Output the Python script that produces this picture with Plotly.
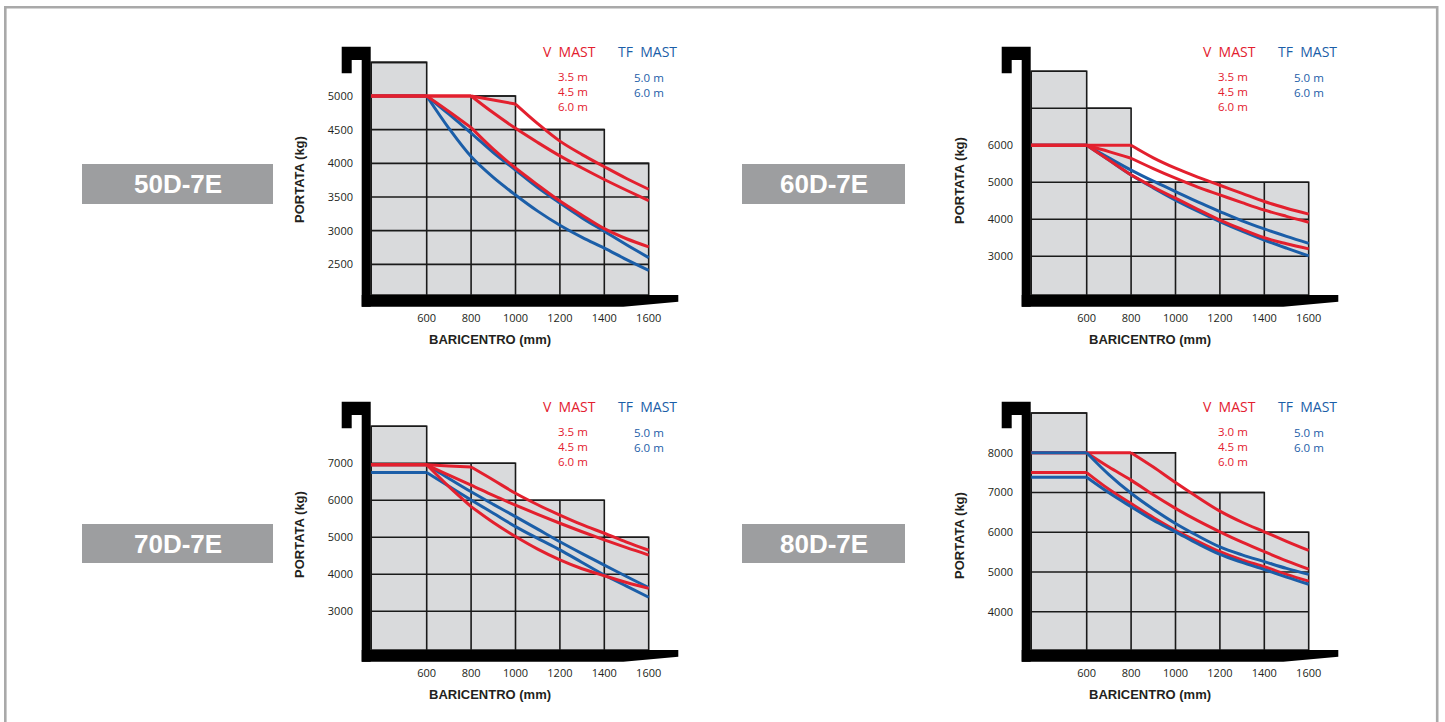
import plotly.graph_objects as go

W, H = 1445, 722

# ---------------- data ----------------
X_MM = [600, 700, 800, 900, 1000, 1100, 1200, 1300, 1400, 1500, 1600]
X_TICKS = [600, 800, 1000, 1200, 1400, 1600]
X_LEFT = 350

MODELS = ["50D-7E", "60D-7E", "70D-7E", "80D-7E"]
V_HEIGHTS = [["3.5 m", "4.5 m", "6.0 m"], ["3.5 m", "4.5 m", "6.0 m"],
             ["3.5 m", "4.5 m", "6.0 m"], ["3.0 m", "4.5 m", "6.0 m"]]
TF_HEIGHTS = ["5.0 m", "6.0 m"]

# 50D-7E
Y_TICKS_50 = [2500, 3000, 3500, 4000, 4500, 5000]
EDGES_50 = [350, 600, 1000, 1400, 1600]
TOPS_50 = [5500, 5000, 4500, 4000]
V1_50 = [5000, 5000, 5000, 4940, 4880, 4590, 4330, 4130, 3950, 3775, 3615]
V2_50 = [5000, 5000, 5000, 4750, 4520, 4310, 4110, 3930, 3760, 3600, 3445]
V3_50 = [5000, 4770, 4530, 4210, 3930, 3680, 3440, 3230, 3030, 2880, 2760]
T1_50 = [5000, 4730, 4450, 4160, 3900, 3640, 3410, 3190, 2990, 2790, 2600]
T2_50 = [5000, 4520, 4100, 3790, 3530, 3290, 3080, 2900, 2740, 2570, 2410]

# 60D-7E
Y_TICKS_60 = [3000, 4000, 5000, 6000]
EDGES_60 = [350, 600, 800, 1600]
TOPS_60 = [8000, 7000, 5000]
V1_60 = [6000, 6000, 6000, 5660, 5380, 5140, 4920, 4700, 4480, 4300, 4140]
V2_60 = [6000, 5830, 5650, 5370, 5110, 4870, 4660, 4450, 4250, 4080, 3920]
V3_60 = [6000, 5600, 5200, 4870, 4570, 4270, 3980, 3730, 3500, 3340, 3200]
T1_60 = [6000, 5660, 5330, 5030, 4750, 4470, 4210, 3960, 3740, 3540, 3350]
T2_60 = [6000, 5600, 5200, 4850, 4520, 4220, 3940, 3680, 3440, 3220, 3010]

# 70D-7E
Y_TICKS_70 = [3000, 4000, 5000, 6000, 7000]
EDGES_70 = [350, 600, 1000, 1400, 1600]
TOPS_70 = [8000, 7000, 6000, 5000]
V1_70 = [6960, 6930, 6900, 6550, 6190, 5880, 5600, 5340, 5110, 4870, 4650]
V2_70 = [6960, 6680, 6410, 6130, 5870, 5620, 5380, 5150, 4930, 4720, 4520]
V3_70 = [6960, 6370, 5830, 5400, 5020, 4680, 4390, 4150, 3960, 3780, 3620]
T1_70 = [6960, 6590, 6230, 5890, 5560, 5220, 4880, 4560, 4250, 3940, 3640]
T2_70 = [6750, 6380, 6010, 5650, 5290, 4970, 4660, 4320, 3980, 3680, 3380]

# 80D-7E
Y_TICKS_80 = [4000, 5000, 6000, 7000, 8000]
EDGES_80 = [350, 600, 1000, 1400, 1600]
TOPS_80 = [9000, 8000, 7000, 6000]
V1_80 = [8000, 8000, 8000, 7640, 7250, 6880, 6530, 6250, 6010, 5770, 5540]
V2_80 = [8000, 7640, 7310, 6940, 6600, 6290, 6010, 5750, 5510, 5280, 5070]
V3_80 = [7500, 7080, 6720, 6370, 6050, 5770, 5510, 5300, 5130, 4940, 4770]
T1_80 = [8000, 7450, 6980, 6580, 6220, 5910, 5630, 5430, 5260, 5090, 4940]
T2_80 = [7380, 6990, 6640, 6300, 6010, 5710, 5440, 5240, 5060, 4870, 4690]

# ---------------- style / geometry ----------------
RED = "#e3202e"
BLUE = "#1b5ea8"
FILL = "#d9dadc"
GRID = "#1a1a1a"
LABEL_BOX = "#9d9ea0"
TEXT = "#231f20"
TICK_FONT = dict(family="Open Sans, Noto Sans, sans-serif", size=11, color=TEXT)
BOLD_FONT = "Liberation Sans, Arial, sans-serif"

KX = 0.222          # px per mm
X600_PX = 426.7     # px of x=600 in first column of panels

panels = [
    dict(model=MODELS[0], vh=V_HEIGHTS[0], yt=Y_TICKS_50, edges=EDGES_50, tops=TOPS_50,
         series=[(T1_50, BLUE, [600]), (T2_50, BLUE, [600]),
                 (V1_50, RED, [600, 800, 1000]), (V2_50, RED, [600, 800]), (V3_50, RED, [600, 800])],
         dx=0, dy=0, yv=5000, ypx=96.0, ky=0.06733, box=(82, 164, 273, 204)),
    dict(model=MODELS[1], vh=V_HEIGHTS[1], yt=Y_TICKS_60, edges=EDGES_60, tops=TOPS_60,
         series=[(T1_60, BLUE, [600]), (T2_60, BLUE, [600]),
                 (V1_60, RED, [600, 800]), (V2_60, RED, [600, 800]), (V3_60, RED, [600, 800])],
         dx=660, dy=0, yv=6000, ypx=145.3, ky=0.037, box=(742, 164, 905, 204)),
    dict(model=MODELS[2], vh=V_HEIGHTS[2], yt=Y_TICKS_70, edges=EDGES_70, tops=TOPS_70,
         series=[(T1_70, BLUE, [600]), (T2_70, BLUE, [600]),
                 (V1_70, RED, [600, 800]), (V2_70, RED, [600]), (V3_70, RED, [600, 800])],
         dx=0, dy=355, yv=7000, ypx=463.3, ky=0.037, box=(82, 524, 273, 563)),
    dict(model=MODELS[3], vh=V_HEIGHTS[3], yt=Y_TICKS_80, edges=EDGES_80, tops=TOPS_80,
         series=[(V1_80, RED, [600, 800]), (V2_80, RED, [600]), (V3_80, RED, [600]),
                 (T1_80, BLUE, [600]), (T2_80, BLUE, [600])],
         dx=660, dy=355, yv=8000, ypx=452.7, ky=0.03975, box=(742, 524, 905, 563)),
]


def pxx(v):
    return v / W


def pxy(v):
    return 1 - v / H


def build_xy(ys, kinks):
    pts = [(X_LEFT, ys[0])] + list(zip(X_MM, ys))
    xs_out, ys_out = [], []
    seg = []
    for (x, y) in pts:
        seg.append((x, y))
        if x in kinks:
            if len(seg) > 1:
                xs_out += [p[0] for p in seg] + [None]
                ys_out += [p[1] for p in seg] + [None]
            seg = [(x, y)]
    if len(seg) > 1:
        xs_out += [p[0] for p in seg]
        ys_out += [p[1] for p in seg]
    return xs_out, ys_out


fig = go.Figure()
shapes = []
annotations = []
layout_axes = {}

for i, p in enumerate(panels):
    n = "" if i == 0 else str(i + 1)
    xa, ya = "x" + n, "y" + n
    dx, dy = p["dx"], p["dy"]
    x6 = X600_PX + dx
    Lpx, Rpx = 340 + dx, 681 + dx
    Tpx, Bpx = 45 + dy, 309 + dy
    xr = [600 + (Lpx - x6) / KX, 600 + (Rpx - x6) / KX]
    yr = [p["yv"] - (Bpx - p["ypx"]) / p["ky"], p["yv"] + (p["ypx"] - Tpx) / p["ky"]]
    ybot = p["yv"] - (295 + dy - p["ypx"]) / p["ky"]

    layout_axes["xaxis" + n] = dict(
        domain=[pxx(Lpx), pxx(Rpx)], range=xr, anchor="free", position=pxy(310 + dy),
        tickvals=X_TICKS, showgrid=False, zeroline=False, showline=False, ticks="",
        tickfont=TICK_FONT, fixedrange=True)
    layout_axes["yaxis" + n] = dict(
        domain=[pxy(Bpx), pxy(Tpx)], range=yr, anchor="free", position=pxx(353 + dx),
        tickvals=p["yt"], showgrid=False, zeroline=False, showline=False, ticks="",
        tickfont=TICK_FONT, fixedrange=True)

    edges, tops = p["edges"], p["tops"]
    # grey stepped block
    path = f"M {edges[0]},{ybot} L {edges[0]},{tops[0]}"
    for k in range(len(tops)):
        path += f" L {edges[k+1]},{tops[k]}"
        if k + 1 < len(tops):
            path += f" L {edges[k+1]},{tops[k+1]}"
    path += f" L {edges[-1]},{ybot} Z"
    shapes.append(dict(type="path", path=path, xref=xa, yref=ya, fillcolor=FILL,
                       line=dict(color=GRID, width=1.6), layer="below"))

    def top_at(x):
        for k in range(len(tops)):
            if edges[k] <= x < edges[k + 1]:
                return tops[k]
        return tops[-1]

    for xv in X_TICKS[:-1]:
        shapes.append(dict(type="line", xref=xa, yref=ya, x0=xv, x1=xv, y0=ybot, y1=top_at(xv),
                           line=dict(color=GRID, width=1.6), layer="below"))
    for yv in p["yt"] + [t for t in tops if t not in p["yt"]]:
        xend = edges[0]
        for k in range(len(tops)):
            if tops[k] >= yv:
                xend = edges[k + 1]
        if xend > edges[0]:
            shapes.append(dict(type="line", xref=xa, yref=ya, x0=edges[0], x1=xend, y0=yv, y1=yv,
                               line=dict(color=GRID, width=1.6), layer="below"))

    # curves
    for ys, col, kinks in p["series"]:
        xs_, ys_ = build_xy(ys, kinks)
        fig.add_trace(go.Scatter(x=xs_, y=ys_, mode="lines", xaxis=xa, yaxis=ya,
                                 line=dict(color=col, width=3, shape="spline", smoothing=1.0),
                                 connectgaps=False, hoverinfo="skip", showlegend=False))

    # black frame (hook + vertical bar)
    fpts = [(341.7, 46.7), (370.7, 46.7), (370.7, 306.7), (361.7, 306.7), (361.7, 60),
            (351.7, 60), (351.7, 73.3), (341.7, 73.3)]
    fpath = "M " + " L ".join(f"{pxx(a + dx)},{pxy(b + dy)}" for a, b in fpts) + " Z"
    shapes.append(dict(type="path", path=fpath, xref="paper", yref="paper",
                       fillcolor="black", line=dict(width=0)))
    bpts = [(361.7, 295), (678.3, 295), (678.3, 301.7), (623.3, 306.7), (361.7, 306.7)]
    bpath = "M " + " L ".join(f"{pxx(a + dx)},{pxy(b + dy)}" for a, b in bpts) + " Z"
    shapes.append(dict(type="path", path=bpath, xref="paper", yref="paper",
                       fillcolor="black", line=dict(width=0)))

    # model label box
    bx0, by0, bx1, by1 = p["box"]
    shapes.append(dict(type="rect", xref="paper", yref="paper", x0=pxx(bx0), x1=pxx(bx1),
                       y0=pxy(by1), y1=pxy(by0), fillcolor=LABEL_BOX, line=dict(width=0)))
    annotations.append(dict(text="<b>" + p["model"] + "</b>", xref="paper", yref="paper",
                            x=pxx((bx0 + bx1) / 2), y=pxy((by0 + by1) / 2),
                            showarrow=False, xanchor="center", yanchor="middle",
                            font=dict(family=BOLD_FONT, size=26, color="white")))

    # axis titles
    annotations.append(dict(text="<b>BARICENTRO (mm)</b>", xref="paper", yref="paper",
                            x=pxx(490 + dx), y=pxy(339 + dy), showarrow=False,
                            xanchor="center", yanchor="middle",
                            font=dict(family=BOLD_FONT, size=13, color=TEXT)))
    annotations.append(dict(text="<b>PORTATA (kg)</b>", xref="paper", yref="paper",
                            x=pxx(299 + dx), y=pxy(180 + dy), showarrow=False, textangle=-90,
                            xanchor="center", yanchor="middle",
                            font=dict(family=BOLD_FONT, size=13, color=TEXT)))

    # mast legend
    lf = "Open Sans, Noto Sans, sans-serif"
    annotations.append(dict(text="V\u00a0\u00a0MAST", xref="paper", yref="paper",
                            x=pxx(569 + dx), y=pxy(52 + dy), showarrow=False,
                            xanchor="center", yanchor="middle",
                            font=dict(family=lf, size=14, color=RED)))
    annotations.append(dict(text="TF\u00a0\u00a0MAST", xref="paper", yref="paper",
                            x=pxx(647 + dx), y=pxy(52 + dy), showarrow=False,
                            xanchor="center", yanchor="middle",
                            font=dict(family=lf, size=14, color=BLUE)))
    annotations.append(dict(text="<br>".join(p["vh"]), xref="paper", yref="paper",
                            x=pxx(573 + dx), y=pxy(91.8 + dy), showarrow=False,
                            xanchor="center", yanchor="middle", align="center", borderpad=0,
                            font=dict(family=lf, size=11.5, color=RED)))
    annotations.append(dict(text="<br>".join(TF_HEIGHTS), xref="paper", yref="paper",
                            x=pxx(649 + dx), y=pxy(85.0 + dy), showarrow=False,
                            xanchor="center", yanchor="middle", align="center", borderpad=0,
                            font=dict(family=lf, size=11.5, color=BLUE)))

# outer frame
shapes.append(dict(type="rect", xref="paper", yref="paper", x0=pxx(5.3), x1=pxx(1437.2),
                   y0=pxy(740), y1=pxy(7.3), line=dict(color="#a9a9a9", width=2.6)))

fig.update_layout(width=W, height=H, margin=dict(l=0, r=0, t=0, b=0),
                  paper_bgcolor="white", plot_bgcolor="white",
                  shapes=shapes, annotations=annotations, showlegend=False, **layout_axes)

fig.write_html("out.html", config={"displayModeBar": False},
               post_script="document.body.style.margin='0px';document.body.style.overflow='hidden';")
